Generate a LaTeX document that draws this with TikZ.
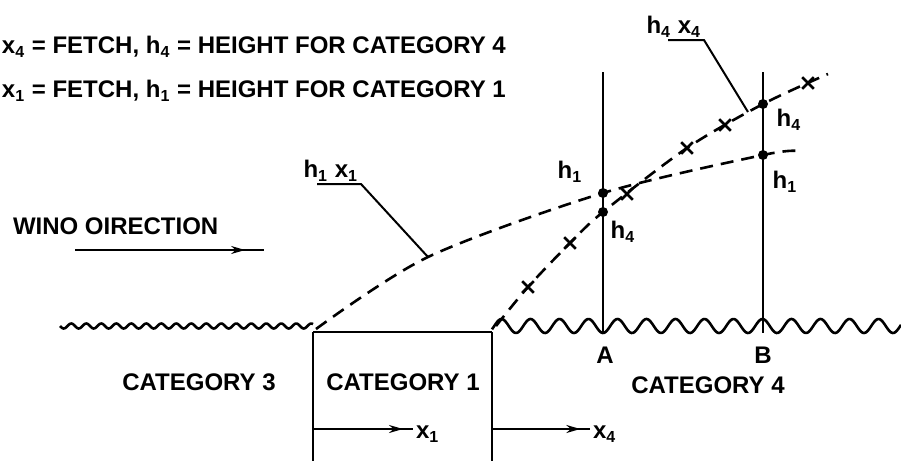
\documentclass[tikz,border=0pt]{standalone}
\usepackage{fontspec}
\setmainfont{Liberation Sans}
\usetikzlibrary{arrows.meta,shapes.misc,decorations.markings}

\begin{document}
\begin{tikzpicture}[>=Stealth, x=0.5pt, y=-0.5pt, line width=1pt]

% --- global styles ---
\tikzset{every node/.style={font=\fontsize{12}{14}\selectfont\bfseries, inner sep=1pt},
  dashcurve/.style={line width=1.3pt, dash pattern=on 6.5pt off 4pt},
  wall/.style={line width=1pt},
  wave/.style={line width=1.3pt},
  dot/.style={circle, fill, inner sep=0pt, minimum size=5pt},
  xmark/.style={cross out, draw, line width=1.3pt, inner sep=0pt, minimum size=4.5pt},
  leader/.style={line width=1pt},
  tiparrow/.style={postaction={decorate}, decoration={markings,
      mark=at position 0.9 with {\arrow{Stealth[length=7pt,width=4pt]}}}}}

% --- parameters ---
\def\groundY{332}   % level of the flat ground
\def\xA{603}        % section A
\def\xB{763}        % section B
\def\topY{72}       % top of the sections

\useasboundingbox (0,0) rectangle (901,461);

% --- key points ---
\coordinate (C3end) at (313,\groundY);   % category 3 / 1 corner
\coordinate (C4start) at (492,\groundY); % category 1 / 4 corner
\coordinate (C3wall) at (313,461);
\coordinate (C4wall) at (492,461);
\coordinate (Atop) at (\xA,\topY);
\coordinate (Abot) at (\xA,333);
\coordinate (Btop) at (\xB,\topY);
\coordinate (Bbot) at (\xB,333);
\coordinate (h1A) at (\xA,193);
\coordinate (h4A) at (\xA,212);
\coordinate (h1B) at (\xB,155);
\coordinate (h4B) at (\xB,104);
\coordinate (h1lead) at (428,257);
\coordinate (h4lead) at (748,112);

% --- legend ---
\node[anchor=west, inner sep=0pt] (legfour) at (1,47)
  {x\textsubscript{4} = FETCH, h\textsubscript{4} = HEIGHT FOR CATEGORY 4};
\node[anchor=west, inner sep=0pt] (legone) at (1,91)
  {x\textsubscript{1} = FETCH, h\textsubscript{1} = HEIGHT FOR CATEGORY 1};

% --- wind ---
\node[anchor=west, inner sep=0pt] (wind) at (12,226) {WINO OIRECTION};
\coordinate (windstart) at (75,250);
\coordinate (windend) at (264,250);
\draw[tiparrow, line width=0.8pt] (windstart) -- (windend);

% --- ground ---
\draw[wave] plot[domain=60:313, samples=220, smooth] (\x,{326+2.5*sin(24*(\x-60))});
\draw (C3end) -- (C4start);
\draw[wave] plot[domain=492:901, samples=300, smooth] (\x,{326+7*cos(12.414*(\x-603))});
\draw[wall] (C3end) -- (C3wall);
\draw[wall] (C4start) -- (C4wall);

% --- sections A and B ---
\draw[wall] (Atop) -- (Abot);
\draw[wall] (Btop) -- (Bbot);
\node (lblA) at (605,355) {A};
\node (lblB) at (763,355) {B};

% --- growth curves ---
\draw[dashcurve] plot[smooth] coordinates {(316,329) (h1lead) (h1A) (h1B) (798,151)};
\draw[dashcurve] plot[smooth] coordinates {(496,326) (528,287) (570,243) (h4A) (687,148) (h4B) (828,74)};
\foreach \pt in {(528,287),(570,243),(627,194),(687,148),(725,125),(808,83)}
  \node[xmark] at \pt {};
\foreach \pt in {h1A,h4A,h1B,h4B}
  \node[dot] at (\pt) {};

% --- heights ---
\node (hoA) at (570,172) {h\textsubscript{1}};
\node (hfA) at (623,232) {h\textsubscript{4}};
\node (hfB) at (789,120) {h\textsubscript{4}};
\node (hoB) at (785,182) {h\textsubscript{1}};

% --- curve labels ---
\node[anchor=south east] (hxone) at (361,184) {h\textsubscript{1} x\textsubscript{1}};
\draw[leader] ([xshift=-22pt]hxone.south east) -- (hxone.south east) -- (h1lead);
\node[anchor=south east] (hxfour) at (704,40) {h\textsubscript{4} x\textsubscript{4}};
\draw[leader] ([xshift=-18pt]hxfour.south east) -- (hxfour.south east) -- (h4lead);

% --- categories ---
\node (catthree) at (199,382) {CATEGORY 3};
\node (catone) at (403,382) {CATEGORY 1};
\node (catfour) at (708,385) {CATEGORY 4};

% --- fetches ---
\coordinate (xonestart) at (313,429);
\coordinate (xfourstart) at (493,429);
\node[anchor=west] (xone) at (413,434) {x\textsubscript{1}};
\node[anchor=west] (xfour) at (590,434) {x\textsubscript{4}};
\draw[tiparrow] (xonestart) -- (xone.west |- xonestart);
\draw[tiparrow] (xfourstart) -- (xfour.west |- xfourstart);

\end{tikzpicture}
\end{document}
